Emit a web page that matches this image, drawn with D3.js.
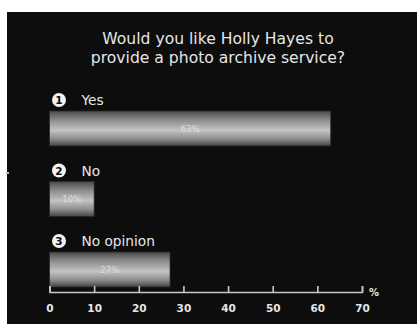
<!doctype html>
<html>
  <head>
    <meta charset="utf-8">
    <title>Photo archive poll</title>
    <script src="https://d3js.org/d3.v7.min.js"></script>
    <style>
      html, body { margin:0; padding:0; background:#fff; overflow:hidden }
      svg { display:block; font-family:"DejaVu Sans", Verdana, sans-serif }
    </style>
  </head>
  <body>
    <div id="chart"></div>
    <script>
      var title = ["Would you like Holly Hayes to", "provide a photo archive service?"];
      var categories = ["Yes", "No", "No opinion"];
      var percents = [63, 10, 27];
      var ticks = [0, 10, 20, 30, 40, 50, 60, 70];

      var W = 417, H = 324;
      var svg = d3.select("#chart").append("svg")
        .attr("width", W).attr("height", H);

      var defs = svg.append("defs");
      var grad = defs.append("linearGradient")
        .attr("id", "bar").attr("x1", 0).attr("y1", 0).attr("x2", 0).attr("y2", 1);
      [[0, "#4a4a4a"], [0.25, "#8a8a8a"], [0.55, "#c4c4c4"], [0.8, "#8c8c8c"], [1, "#444"]]
        .forEach(function(s) {
          grad.append("stop").attr("offset", s[0]).attr("stop-color", s[1]);
        });

      // black panel
      svg.append("rect")
        .attr("x", 7).attr("y", 12).attr("width", W - 7).attr("height", H - 12)
        .attr("fill", "#0d0d0d");
      svg.append("rect")
        .attr("x", 6).attr("y", 172).attr("width", 3).attr("height", 2)
        .attr("fill", "#bbb");

      svg.append("g").selectAll("text").data(title).join("text")
        .attr("x", 218).attr("y", function(d, i) { return 44 + i * 19; })
        .attr("text-anchor", "middle")
        .attr("fill", "#e6e6e6").attr("font-size", 15.6)
        .text(function(d) { return d; });

      var x = d3.scaleLinear().domain([0, 70]).range([49.5, 362]);
      var y = d3.scaleBand().domain(categories).range([93, 304.5]);

      var row = svg.append("g").selectAll("g").data(categories).join("g")
        .attr("transform", function(d) { return "translate(0," + y(d) + ")"; });

      row.append("circle")
        .attr("cx", 59).attr("cy", 7).attr("r", 7)
        .attr("fill", "#f2f2f2");
      row.append("text")
        .attr("x", 59).attr("y", 11)
        .attr("text-anchor", "middle")
        .attr("font-size", 10.5).attr("font-weight", "bold")
        .attr("fill", "#0d0d0d")
        .text(function(d, i) { return i + 1; });
      row.append("text")
        .attr("x", 81.5).attr("y", 12)
        .attr("fill", "#e6e6e6").attr("font-size", 13.7)
        .text(function(d) { return d; });

      row.append("rect")
        .attr("x", x(0)).attr("y", 18)
        .attr("width", function(d, i) { return x(percents[i]) - x(0); })
        .attr("height", 35)
        .attr("fill", "url(#bar)")
        .attr("stroke", "#2a2a2a").attr("stroke-width", 0.8);
      row.append("text")
        .attr("x", function(d, i) { return (x(0) + x(percents[i])) / 2; })
        .attr("y", 38.5)
        .attr("text-anchor", "middle")
        .attr("font-size", 8.5)
        .attr("fill", "#e8e8e8").attr("fill-opacity", 0.8)
        .text(function(d, i) { return percents[i] + "%"; });

      var axis = d3.axisBottom(x).tickValues(ticks).tickSize(-6).tickPadding(13);
      var ag = svg.append("g")
        .attr("transform", "translate(0,292)")
        .call(axis);
      ag.select(".domain").attr("stroke", "#c8c8c8").attr("stroke-width", 1.6);
      ag.selectAll(".tick line").attr("stroke", "#c8c8c8").attr("stroke-width", 1.6);
      ag.selectAll(".tick text")
        .attr("fill", "#e6e6e6").attr("font-size", 10.5).attr("font-weight", "bold")
        .attr("font-family", "DejaVu Sans, sans-serif");
      svg.append("text")
        .attr("x", 369).attr("y", 296)
        .attr("fill", "#e6e6e6").attr("font-size", 10).attr("font-weight", "bold")
        .text("%");
    </script>
  </body>
</html>
